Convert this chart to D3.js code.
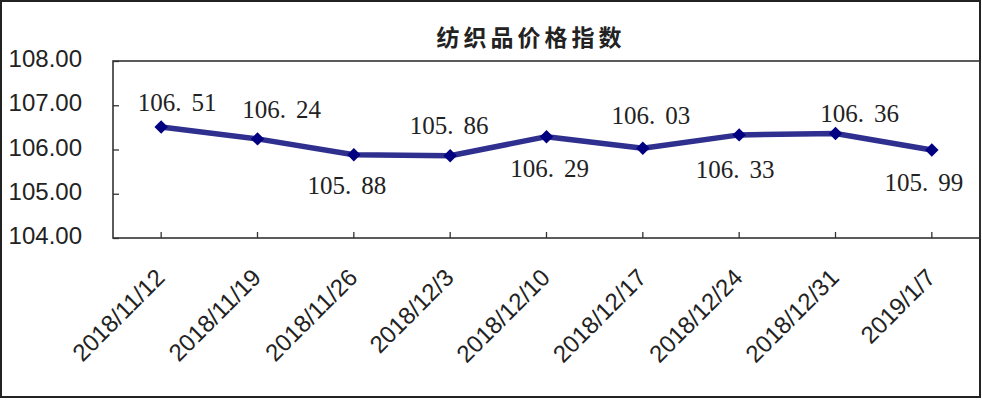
<!DOCTYPE html>
<html><head><meta charset="utf-8">
<script src="https://cdn.jsdelivr.net/npm/d3@7"></script>
<style>html,body{margin:0;padding:0;background:#fff;}svg{display:block;}</style>
</head><body>
<script>
const title = "纺织品价格指数";
const categories = ["2018/11/12","2018/11/19","2018/11/26","2018/12/3","2018/12/10","2018/12/17","2018/12/24","2018/12/31","2019/1/7"];
const values = [106.51,106.24,105.88,105.86,106.29,106.03,106.33,106.36,105.99];
const yTicks = [104,105,106,107,108];
// data-label placement offsets (layout only)
const labelDx = [16,24,-7,-1,3,8,-4,24,-8];
const labelDy = [-16,-21,39,-22,40,-24,43,-12,41];

const W = 982, H = 400;
const plot = {left:113, top:61, right:980, bottom:238};
const svg = d3.select("body").append("svg").attr("width",W).attr("height",H);

// outer frame
svg.append("rect").attr("x",1).attr("y",1).attr("width",W-3).attr("height",H-4)
  .attr("fill","#fff").attr("stroke","#222").attr("stroke-width",2);

// title
svg.append("text").attr("x",531).attr("y",46).attr("text-anchor","middle")
  .attr("font-family","'Noto Sans CJK SC'").attr("font-size",23).attr("font-weight","bold")
  .attr("letter-spacing",4).attr("fill","#222").text(title);

const x = d3.scaleBand().domain(categories).range([plot.left, plot.right]);
const y = d3.scaleLinear().domain([104,108]).range([plot.bottom, plot.top]);

// plot box
svg.append("rect").attr("x",plot.left).attr("y",plot.top)
  .attr("width",plot.right-plot.left).attr("height",plot.bottom-plot.top)
  .attr("fill","none").attr("stroke","#333").attr("stroke-width",1.6);

// y axis
const yAxis = d3.axisLeft(y).tickValues(yTicks).tickSize(-6).tickPadding(31).tickFormat(d3.format(".2f"));
const ga = svg.append("g").attr("transform",`translate(${plot.left},0)`).call(yAxis);
ga.select(".domain").remove();
ga.selectAll(".tick line").attr("stroke","#333").attr("stroke-width",1.3);
ga.selectAll(".tick text").attr("font-family","'Liberation Sans', Arial, sans-serif")
  .attr("font-size",24).attr("fill","#222").attr("dy","0.32em").attr("y",-2);

// x axis
const xAxis = d3.axisBottom(x).tickSize(-6).tickFormat("");
const gx = svg.append("g").attr("transform",`translate(0,${plot.bottom})`).call(xAxis);
gx.select(".domain").remove();
gx.selectAll(".tick line").attr("stroke","#333").attr("stroke-width",1.3);
gx.selectAll(".tick text").remove();

svg.append("g").selectAll("text").data(categories).join("text")
  .attr("transform", d => `translate(${x(d)+x.bandwidth()/2+5},279) rotate(-45)`)
  .attr("text-anchor","end")
  .attr("font-family","'Liberation Sans', Arial, sans-serif").attr("font-size",24).attr("fill","#222")
  .text(d => d);

// line
const cx = (d,i) => x(categories[i]) + x.bandwidth()/2;
const line = d3.line().x((d,i)=>cx(d,i)).y(d=>y(d));
svg.append("path").datum(values).attr("d",line).attr("fill","none")
  .attr("stroke","#2f2f8f").attr("stroke-width",5.5).attr("stroke-linejoin","round");

// markers
svg.append("g").selectAll("path").data(values).join("path")
  .attr("d", d3.symbol().type(d3.symbolSquare).size(90))
  .attr("transform",(d,i)=>`translate(${cx(d,i)},${y(d)}) rotate(45)`)
  .attr("fill","#000080");

// data labels
const lbl = svg.append("g").selectAll("text").data(values).join("text")
  .attr("x",(d,i)=>cx(d,i)+labelDx[i]).attr("y",(d,i)=>y(d)+labelDy[i])
  .attr("text-anchor","middle")
  .attr("font-family","'Liberation Serif', 'Times New Roman', serif").attr("font-size",25).attr("fill","#222");
lbl.each(function(d){
  const s = d3.format(".2f")(d).split(".");
  const t = d3.select(this);
  t.append("tspan").text(s[0]+".");
  t.append("tspan").attr("dx",10).text(s[1]);
});
</script>
</body></html>
